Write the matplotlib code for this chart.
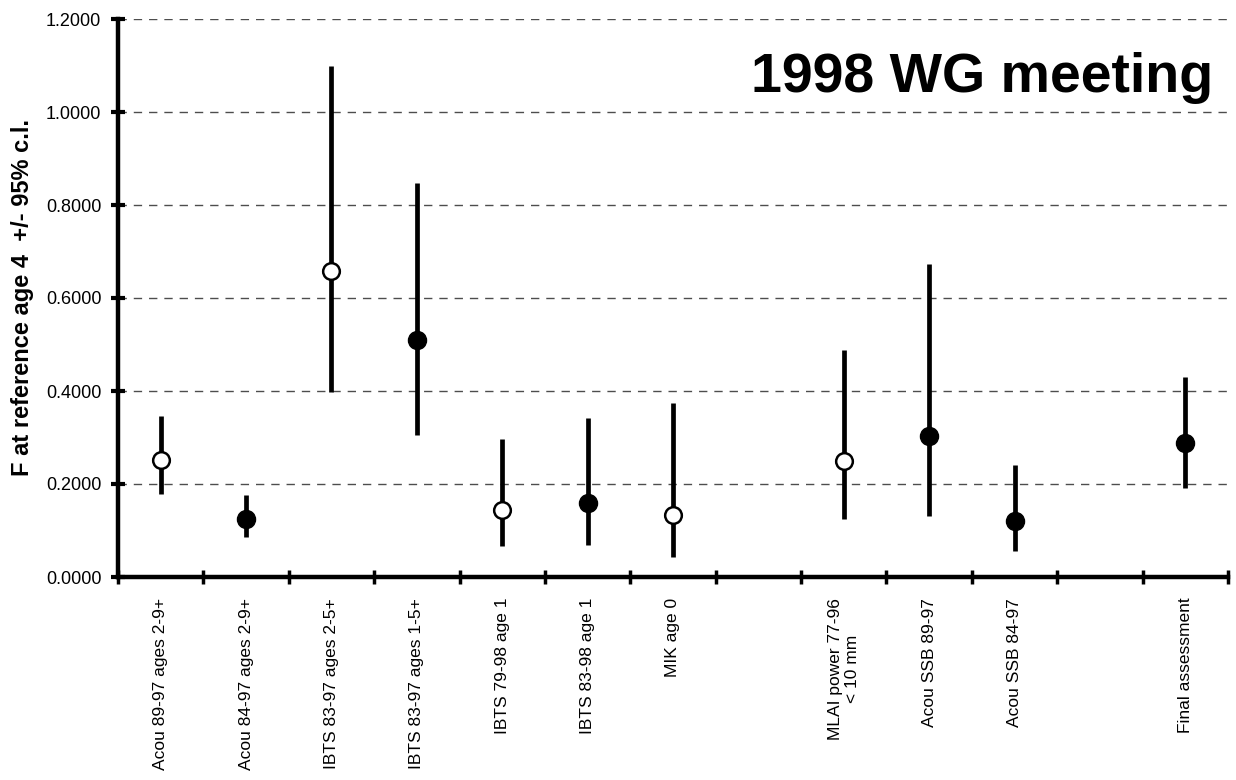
import numpy as np
import matplotlib
matplotlib.use("Agg")
import matplotlib.pyplot as plt

plt.rcParams['font.family'] = ['Liberation Sans', 'DejaVu Sans']

# data (blank slots have no estimate)
labels = ["Acou 89-97 ages 2-9+", "Acou 84-97 ages 2-9+", "IBTS 83-97 ages 2-5+",
          "IBTS 83-97 ages 1-5+", "IBTS 79-98 age 1", "IBTS 83-98 age 1", "MIK age 0",
          "", "MLAI power 77-96\n< 10 mm", "Acou SSB 89-97", "Acou SSB 84-97", "",
          "Final assessment"]
f_est = [0.252, 0.125, 0.658, 0.510, 0.144, 0.159, 0.133, np.nan, 0.250, 0.303, 0.120, np.nan, 0.288]
f_low = [0.178, 0.086, 0.398, 0.305, 0.067, 0.068, 0.043, np.nan, 0.125, 0.131, 0.056, np.nan, 0.191]
f_high = [0.346, 0.176, 1.099, 0.847, 0.297, 0.342, 0.374, np.nan, 0.488, 0.673, 0.241, np.nan, 0.430]
is_open = [True, False, True, False, True, False, True, False, True, False, False, False, False]

W, H = 1236, 780
fig = plt.figure(figsize=(W / 100, H / 100), dpi=100)
ax = fig.add_axes([118 / W, 1 - 577 / H, (1228 - 118) / W, (577 - 19) / H])

x = np.arange(len(labels))
est = np.array(f_est)
low = np.array(f_low)
high = np.array(f_high)

# dashed grid
for yv in np.arange(0.2, 1.21, 0.2):
    ax.axhline(yv, color='0.3', lw=1.0, dashes=(6, 5), zorder=1)

# confidence intervals
ax.vlines(x, low, high, color='black', lw=3.4, zorder=2)

for i in range(len(x)):
    if np.isnan(est[i]):
        continue
    if is_open[i]:
        ax.plot(x[i], est[i], 'o', ms=12, mfc='white', mec='black', mew=1.8, zorder=3)
    else:
        ax.plot(x[i], est[i], 'o', ms=13, mfc='black', mec='black', zorder=3)

ax.set_xlim(-0.5, len(labels) - 0.5)
ax.set_ylim(0, 1.2)

ax.set_yticks(np.arange(0, 1.21, 0.2))
ax.set_yticklabels(["%.4f" % v for v in np.arange(0, 1.21, 0.2)], fontsize=13)
ax.tick_params(axis='y', direction='inout', length=10, width=3, pad=7)

ax.set_xticks(x)
ax.set_xticklabels(labels, rotation=90, fontsize=12.5, va='top', ha='center',
                   multialignment='center')
ax.set_xticks(np.arange(-0.5, len(labels), 1.0), minor=True)
ax.tick_params(axis='x', which='major', length=0, pad=15)
ax.tick_params(axis='x', which='minor', direction='inout', length=10, width=2.5)

ax.spines['top'].set_visible(False)
ax.spines['right'].set_visible(False)
ax.spines['left'].set_linewidth(3.2)
ax.spines['bottom'].set_linewidth(3.2)

fig.text(23 / W, 1 - 298 / H, "F at reference age 4  +/- 95% c.l.", rotation=90,
         fontsize=17, fontweight='bold', ha='center', va='center')
fig.text(1213 / W, 1 - 92 / H, "1998 WG meeting", fontsize=40, fontweight='bold',
         ha='right', va='baseline')

fig.savefig("out.png", dpi=100)
